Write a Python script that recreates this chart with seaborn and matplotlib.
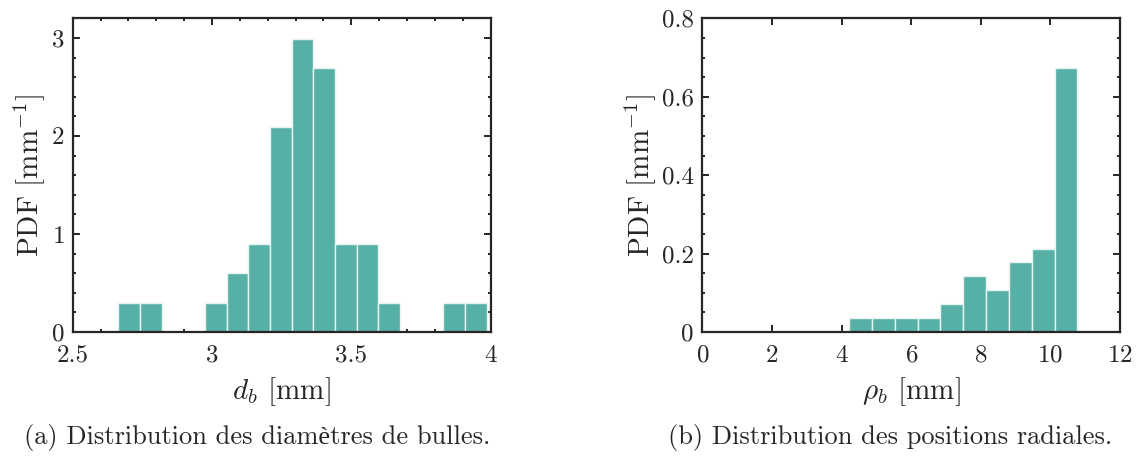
import numpy as np
import pandas as pd
import matplotlib as mpl
mpl.use('Agg')
import matplotlib.pyplot as plt
import seaborn as sns
from matplotlib.ticker import MultipleLocator

sns.set_style('white')
mpl.rcParams['font.family'] = ['cmr10', 'Liberation Serif']
mpl.rcParams['mathtext.fontset'] = 'cm'
mpl.rcParams['axes.formatter.use_mathtext'] = True
mpl.rcParams['font.size'] = 18
mpl.rcParams['axes.labelsize'] = 21
mpl.rcParams['axes.linewidth'] = 1.6
mpl.rcParams['axes.edgecolor'] = '#262626'

# bubble diameters: bin edges (mm) and counts per bin
d_edges = list(np.linspace(2.664, 3.986, 18))
d_counts = [1, 1, 0, 0, 1, 2, 3, 7, 10, 9, 3, 3, 1, 0, 0, 1, 1]

# radial positions: bin edges (mm) and counts per bin
rho_edges = list(np.linspace(4.215, 10.776, 11))
rho_counts = [1, 1, 1, 1, 2, 4, 3, 5, 6, 19]

bar_color = '#57b0a6'

df_d = pd.DataFrame({'d': [(a + b) / 2 for a, b in zip(d_edges[:-1], d_edges[1:])],
                     'n': d_counts})
df_rho = pd.DataFrame({'rho': [(a + b) / 2 for a, b in zip(rho_edges[:-1], rho_edges[1:])],
                       'n': rho_counts})

fig = plt.figure(figsize=(11.37, 4.62), dpi=100)
ax1 = fig.add_axes([0.0639, 0.2814, 0.3676, 0.679])
ax2 = fig.add_axes([0.6177, 0.2814, 0.3674, 0.679])

sns.histplot(data=df_d, x='d', weights='n', bins=d_edges, stat='density',
             color=bar_color, alpha=1, edgecolor='#e8f4f2', linewidth=1, ax=ax1)
sns.histplot(data=df_rho, x='rho', weights='n', bins=rho_edges, stat='density',
             color=bar_color, alpha=1, edgecolor='#e8f4f2', linewidth=1, ax=ax2)

ax1.set_xlim(2.5, 4)
ax1.set_ylim(0, 3.2)
ax1.xaxis.set_minor_locator(MultipleLocator(0.1))
ax1.yaxis.set_major_locator(MultipleLocator(1))
ax1.yaxis.set_minor_locator(MultipleLocator(0.2))
ax1.set_xticks([2.5, 3, 3.5, 4], ['2.5', '3', '3.5', '4'])
ax1.set_xlabel(r'$d_b$ [mm]', labelpad=6)
ax1.set_ylabel(r'PDF [mm$^{-1}$]', labelpad=3)

ax2.set_xlim(0, 12)
ax2.set_ylim(0, 0.8)
ax2.xaxis.set_major_locator(MultipleLocator(2))
ax2.yaxis.set_minor_locator(MultipleLocator(0.05))
ax2.set_yticks([0, 0.2, 0.4, 0.6, 0.8], ['0', '0.2', '0.4', '0.6', '0.8'])
ax2.set_xlabel(r'$\rho_b$ [mm]', labelpad=6)
ax2.set_ylabel(r'PDF [mm$^{-1}$]', labelpad=3)

for ax in (ax1, ax2):
    ax.tick_params(which='both', direction='in', top=True, right=True,
                   bottom=True, left=True, color='#262626', width=1.4)
    ax.tick_params(which='major', length=5, pad=6)
    ax.tick_params(axis='x', which='major', pad=9)
    ax.tick_params(which='minor', length=2.5)
    for s in ax.spines.values():
        s.set_visible(True)

fig.text(0.226, 0.052, '(a) Distribution des diamètres de bulles.',
         ha='center', va='center', fontsize=19)
fig.text(0.783, 0.052, '(b) Distribution des positions radiales.',
         ha='center', va='center', fontsize=19)

fig.savefig('out.png', dpi=100)
